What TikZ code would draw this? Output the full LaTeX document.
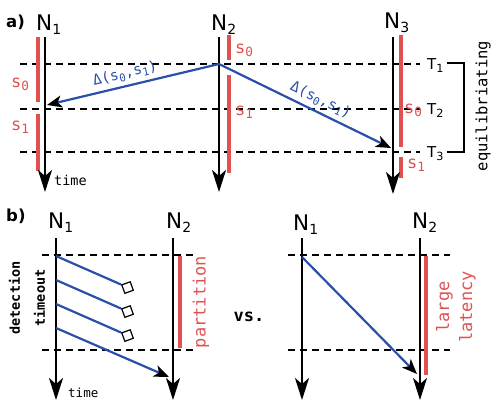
\documentclass[tikz,border=0pt]{standalone}
\usepackage{fontspec}
\setmainfont{DejaVu Sans}
\newfontfamily\monof{DejaVu Sans Mono}
\usetikzlibrary{arrows.meta}
\definecolor{barred}{HTML}{E05252}
\definecolor{msgblue}{HTML}{2A4FA8}
\newcommand\sfN[1]{N\raisebox{-0.22em}{\scalebox{0.65}{#1}}}
\newcommand\dn[1]{\raisebox{-0.2em}{\scalebox{0.75}{#1}}}
\begin{document}
\begin{tikzpicture}[x=1pt,y=-1pt,
  timeline/.style={line width=2.4pt,-{Stealth[length=22pt,width=14pt,inset=6pt]}},
  dashline/.style={dash pattern=on 7pt off 5pt,line width=1.1pt},
  redbar/.style={barred,line width=4pt},
  msg/.style={msgblue,line width=2.2pt,-{Stealth[black,length=15pt,width=12pt,inset=4pt]}},
  msgplain/.style={msgblue,line width=2.2pt},
  nlab/.style={font=\fontsize{21.5}{21.5}\selectfont,inner sep=0pt,anchor=base west},
  plab/.style={font=\bfseries\fontsize{16.5}{16.5}\selectfont,inner sep=0pt,anchor=base west},
  slab/.style={font=\monof\fontsize{17}{17}\selectfont,text=barred,inner sep=0pt,anchor=base west},
  tlab/.style={font=\fontsize{15}{15}\selectfont,inner sep=0pt,anchor=base west},
  dlab/.style={font=\monof\fontsize{14.5}{14.5}\selectfont,text=msgblue,sloped,above,inner sep=4pt},
  timelab/.style={font=\monof\fontsize{13.5}{13.5}\selectfont,inner sep=0pt,anchor=base west},
  lossbox/.style={draw,line width=1.2pt,minimum size=9pt,inner sep=0pt,rotate=20,anchor=north west},
]
\useasboundingbox (0,0) rectangle (498,408);

% ---------------- a) ----------------
\node[plab] (alab) at (6,27) {a)};
\node[nlab] (aN1) at (36,30) {\sfN{1}};
\node[nlab] (aN2) at (211,30) {\sfN{2}};
\node[nlab] (aN3) at (384,28) {\sfN{3}};

% dashed time lines
\coordinate (d1l) at (20,64);  \coordinate (d1r) at (420,64);
\coordinate (d2l) at (20,109); \coordinate (d2r) at (420,109);
\coordinate (d3l) at (20,152); \coordinate (d3r) at (420,152);
\draw[dashline] (d1l) -- (d1r);
\draw[dashline] (d2l) -- (d2r);
\draw[dashline] (d3l) -- (d3r);
\node[tlab] (T1) at (427,69) {T\dn{1}};
\node[tlab] (T2) at (427,114) {T\dn{2}};
\node[tlab] (T3) at (427,157) {T\dn{3}};

% red state bars
\draw[redbar] (38,37) -- (38,102);
\draw[redbar] (38,114) -- (38,171);
\draw[redbar] (229,35) -- (229,60);
\draw[redbar] (229,75) -- (229,173);
\draw[redbar] (401,35) -- (401,147);
\draw[redbar] (401,157) -- (401,178);
\node[slab] (s01) at (11,87) {s\dn{0}};
\node[slab] (s11) at (11,130) {s\dn{1}};
\node[slab] (s02) at (235,53) {s\dn{0}};
\node[slab] (s12) at (235,115) {s\dn{1}};
\node[slab] (s03) at (404,113) {s\dn{0}};
\node[slab] (s13) at (407,168) {s\dn{1}};

% timelines
\coordinate (a1t) at (45,37);  \coordinate (a1b) at (45,192);
\coordinate (a2t) at (219,37); \coordinate (a2b) at (219,192);
\coordinate (a3t) at (393,37); \coordinate (a3b) at (393,194);
\draw[timeline] (a1t) -- (a1b);
\draw[timeline] (a2t) -- (a2b);
\draw[timeline] (a3t) -- (a3b);
\node[timelab] (atime) at (54,185) {time};

% messages
\coordinate (m0) at (219,64);
\coordinate (m1) at (47,105);
\coordinate (m2) at (391,148);
\draw[msg] (m0) -- node[dlab,pos=0.53] (dl1) {Δ(s\dn{0},s\dn{1})} (m1);
\draw[msg] (m0) -- node[dlab,pos=0.56] (dl2) {Δ(s\dn{0},s\dn{1})} (m2);

% bracket
\coordinate (br1) at (447,63); \coordinate (br2) at (464,63);
\coordinate (br3) at (464,152); \coordinate (br4) at (447,152);
\draw[line width=1.2pt] (br1) -- (br2) -- (br3) -- (br4);
\node[font=\monof\fontsize{15.5}{15.5}\selectfont,rotate=90] (equi) at (483,106) {equilibriating};

% ---------------- b) ----------------
\node[plab] (blab) at (6,221) {b)};
\node[nlab] (bN1) at (48,228) {\sfN{1}};
\node[nlab] (bN2) at (166,228) {\sfN{2}};
\node[nlab] (cN1) at (293,230) {\sfN{1}};
\node[nlab] (cN2) at (412,228) {\sfN{2}};

\coordinate (e1l) at (42,255);  \coordinate (e1r) at (195,255);
\coordinate (e2l) at (42,350);  \coordinate (e2r) at (195,350);
\coordinate (f1l) at (288,255); \coordinate (f1r) at (450,255);
\coordinate (f2l) at (288,350); \coordinate (f2r) at (450,350);
\draw[dashline] (e1l) -- (e1r);
\draw[dashline] (e2l) -- (e2r);
\draw[dashline] (f1l) -- (f1r);
\draw[dashline] (f2l) -- (f2r);

\draw[redbar] (180,256) -- (180,348);
\draw[redbar] (426,256) -- (426,375);

\coordinate (b1t) at (56,238);  \coordinate (b1b) at (56,400);
\coordinate (b2t) at (173,238); \coordinate (b2b) at (173,400);
\coordinate (c1t) at (302,238); \coordinate (c1b) at (302,400);
\coordinate (c2t) at (420,238); \coordinate (c2b) at (420,400);
\draw[timeline] (b1t) -- (b1b);
\draw[timeline] (b2t) -- (b2b);
\draw[timeline] (c1t) -- (c1b);
\draw[timeline] (c2t) -- (c2b);
\node[font=\monof\fontsize{12.5}{12.5}\selectfont,inner sep=0pt,anchor=base west] (btime) at (68,397) {time};

% heartbeat messages
\coordinate (h1) at (56,256); \coordinate (h2) at (56,280);
\coordinate (h3) at (56,304); \coordinate (h4) at (56,328);
\coordinate (h1e) at (121,284.5); \coordinate (h2e) at (121,308.5);
\coordinate (h3e) at (121,332.5); \coordinate (h4e) at (169,377);
\draw[msgplain] (h1) -- (h1e);
\draw[msgplain] (h2) -- (h2e);
\draw[msgplain] (h3) -- (h3e);
\draw[msg] (h4) -- (h4e);
\node[lossbox] (x1) at (h1e) {};
\node[lossbox] (x2) at (h2e) {};
\node[lossbox] (x3) at (h3e) {};

\node[font=\monof\bfseries\fontsize{13.5}{25}\selectfont,rotate=90,align=center] (dt) at (27,298) {detection\\timeout};
\node[font=\monof\fontsize{17}{17}\selectfont,text=barred,rotate=90] (part) at (201,302) {partition};
\node[font=\monof\bfseries\fontsize{17}{17}\selectfont] (vs) at (249,317) {vs.};

\coordinate (g1) at (302,257); \coordinate (g2) at (417,374);
\draw[msg] (g1) -- (g2);
\node[font=\monof\fontsize{17}{23}\selectfont,text=barred,rotate=90,align=center] (lat) at (456,307) {large\\latency};
\end{tikzpicture}
\end{document}
